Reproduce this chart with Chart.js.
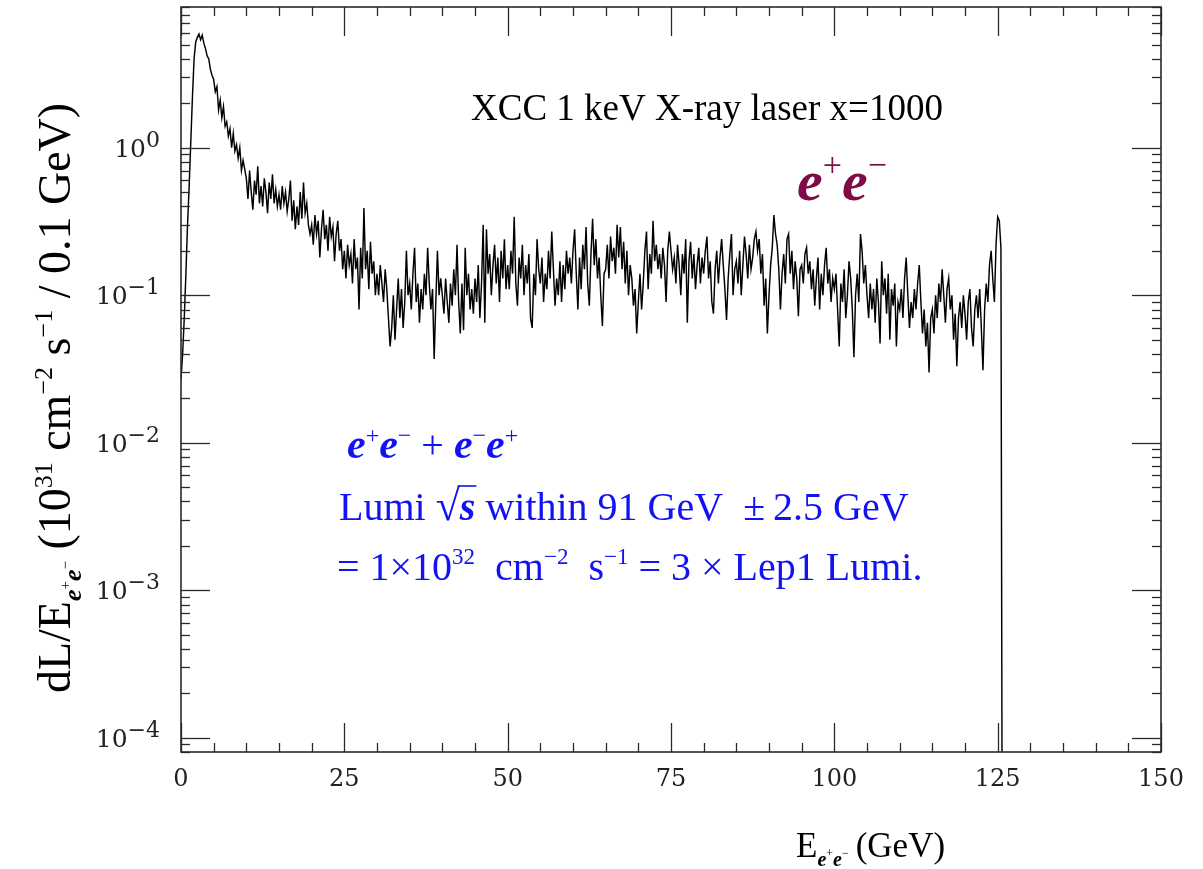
<!DOCTYPE html>
<html>
<head>
<meta charset="utf-8">
<title>XCC 1 keV X-ray laser luminosity spectrum</title>
<script src="https://cdn.jsdelivr.net/npm/chart.js@4.4.1/dist/chart.umd.min.js"></script>
<style>
  html, body { margin: 0; padding: 0; background: #fff; }
  #wrap { width: 1203px; height: 869px; }
</style>
</head>
<body>
<div id="wrap"><canvas id="lumiChart" width="1203" height="869"></canvas></div>
<script>
// Histogram binning (GeV) - values below are read bin by bin off the picture
const BIN_START = 0;
const BIN_WIDTH = 0.25;

// dL/dE, 10^31 cm^-2 s^-1 per 0.1 GeV; one row = 5 GeV
const lumi = [
  0.027, 0.04, 0.07, 0.14, 0.3, 0.55, 1.1, 2.2, 4.0, 5.2, 5.6, 5.9, 5.4, 5.8, 5.1, 4.7, 4.2, 4.0, 3.4, 3.1,
  2.9, 2.4, 2.6, 1.8, 2.1, 1.6, 1.9, 1.4, 1.5, 1.2, 1.35, 1.0, 1.25, 0.95, 1.05, 0.85, 1.0, 0.7, 0.82, 0.72,
  0.62, 0.45, 0.7, 0.5, 0.38, 0.6, 0.48, 0.75, 0.42, 0.55, 0.4, 0.62, 0.5, 0.36, 0.58, 0.45, 0.66, 0.42, 0.52, 0.4,
  0.48, 0.38, 0.55, 0.42, 0.5, 0.37, 0.45, 0.6, 0.32, 0.44, 0.28, 0.4, 0.3, 0.5, 0.33, 0.58, 0.36, 0.42, 0.3, 0.26,
  0.3, 0.22, 0.35, 0.26, 0.32, 0.18, 0.28, 0.38, 0.24, 0.3, 0.2, 0.34, 0.25, 0.29, 0.17, 0.26, 0.32, 0.2, 0.24, 0.15,
  0.2, 0.13, 0.22, 0.16, 0.19, 0.12, 0.24, 0.15, 0.18, 0.08, 0.21, 0.13, 0.39, 0.15, 0.2, 0.11, 0.23, 0.14, 0.17, 0.1,
  0.14, 0.1, 0.16, 0.12, 0.09, 0.15, 0.11, 0.07, 0.045, 0.06, 0.1, 0.05, 0.08, 0.13, 0.07, 0.11, 0.06, 0.09, 0.2, 0.1,
  0.12, 0.08, 0.14, 0.21, 0.09, 0.12, 0.065, 0.11, 0.08, 0.14, 0.1, 0.21, 0.12, 0.08, 0.11, 0.037, 0.09, 0.2, 0.1, 0.13,
  0.1, 0.075, 0.13, 0.09, 0.065, 0.12, 0.085, 0.15, 0.1, 0.22, 0.09, 0.055, 0.12, 0.058, 0.21, 0.1, 0.14, 0.08, 0.11, 0.075,
  0.13, 0.09, 0.16, 0.07, 0.12, 0.3, 0.065, 0.28, 0.14, 0.19, 0.1, 0.16, 0.22, 0.12, 0.18, 0.09, 0.2, 0.13, 0.24, 0.11,
  0.16, 0.11, 0.2, 0.14, 0.34, 0.12, 0.085, 0.18, 0.13, 0.22, 0.1, 0.16, 0.12, 0.19, 0.07, 0.06, 0.14, 0.1, 0.24, 0.15,
  0.12, 0.18, 0.09, 0.14, 0.11, 0.2, 0.13, 0.27, 0.15, 0.085, 0.13, 0.1, 0.17, 0.09, 0.16, 0.11, 0.2, 0.14, 0.18, 0.12,
  0.2, 0.28, 0.14, 0.08, 0.18, 0.11, 0.22, 0.15, 0.29, 0.12, 0.085, 0.19, 0.33, 0.16, 0.24, 0.13, 0.18, 0.1, 0.062, 0.14,
  0.15, 0.22, 0.13, 0.25, 0.17, 0.21, 0.14, 0.3, 0.18, 0.29, 0.15, 0.23, 0.12, 0.2, 0.1, 0.16, 0.13, 0.085, 0.11, 0.055,
  0.09, 0.14, 0.08, 0.12, 0.2, 0.27, 0.11, 0.19, 0.14, 0.32, 0.17, 0.22, 0.15, 0.19, 0.13, 0.21, 0.16, 0.09, 0.2, 0.27,
  0.2, 0.15, 0.18, 0.12, 0.22, 0.16, 0.1, 0.19, 0.14, 0.24, 0.065, 0.17, 0.23, 0.13, 0.19, 0.11, 0.16, 0.21, 0.12, 0.18,
  0.14, 0.2, 0.25, 0.13, 0.17, 0.09, 0.075, 0.15, 0.2, 0.12, 0.18, 0.24, 0.16, 0.11, 0.068, 0.13, 0.19, 0.26, 0.1, 0.15,
  0.17, 0.12, 0.2, 0.1, 0.16, 0.25, 0.19, 0.13, 0.22, 0.15, 0.18, 0.24, 0.27, 0.2, 0.24, 0.14, 0.19, 0.085, 0.13, 0.055,
  0.1, 0.16, 0.21, 0.35, 0.26, 0.22, 0.15, 0.08, 0.14, 0.19, 0.12, 0.24, 0.26, 0.14, 0.2, 0.11, 0.17, 0.13, 0.072, 0.15,
  0.16, 0.12, 0.19, 0.21, 0.14, 0.17, 0.11, 0.15, 0.085, 0.13, 0.18, 0.08, 0.14, 0.1, 0.16, 0.21, 0.12, 0.15, 0.09, 0.13,
  0.11, 0.14, 0.08, 0.045, 0.12, 0.09, 0.15, 0.07, 0.1, 0.17, 0.13, 0.08, 0.038, 0.1, 0.14, 0.09, 0.26, 0.2, 0.12, 0.16,
  0.1, 0.07, 0.12, 0.08, 0.11, 0.065, 0.13, 0.09, 0.047, 0.17, 0.1, 0.13, 0.075, 0.14, 0.05, 0.11, 0.085, 0.12, 0.045, 0.09,
  0.08, 0.11, 0.07, 0.13, 0.18, 0.1, 0.06, 0.09, 0.07, 0.11, 0.08, 0.12, 0.16, 0.09, 0.055, 0.08, 0.045, 0.065, 0.03, 0.07,
  0.08, 0.055, 0.1, 0.07, 0.12, 0.09, 0.15, 0.1, 0.065, 0.11, 0.13, 0.08, 0.1, 0.05, 0.075, 0.033, 0.07, 0.09, 0.06, 0.1,
  0.075, 0.05, 0.09, 0.11, 0.06, 0.045, 0.08, 0.1, 0.07, 0.11, 0.06, 0.031, 0.08, 0.12, 0.09, 0.16, 0.2, 0.13, 0.09, 0.22,
  0.34, 0.32, 0.21, 1e-6
];

// Axis ranges and tick labels
const X_MIN = 0, X_MAX = 150;
const Y_MIN = 8e-5, Y_MAX = 9;
const xTickLabels = [0, 25, 50, 75, 100, 125, 150];
const X_MINOR_STEP = 5;
const yDecadeExponents = [0, -1, -2, -3, -4];

const SERIF = '"Liberation Serif", "Times New Roman", serif';
const TICKFONT = '"DejaVu Serif", serif';
const BLUE = '#1212f2';
const MAROON = '#7e0b45';

// one point per bin (lower edge), the last one closes the drop at the end
const points = lumi.map((v, i) => ({ x: BIN_START + i * BIN_WIDTH, y: v }));

// draw text made of pieces [text, font, dy, overline]
function drawRich(ctx, x, y, parts, align) {
    let w = 0;
    parts.forEach(p => { ctx.font = p[1]; w += ctx.measureText(p[0]).width; });
    let cx = align === 'right' ? x - w : (align === 'center' ? x - w / 2 : x);
    parts.forEach(p => {
        ctx.font = p[1];
        const pw = ctx.measureText(p[0]).width;
        ctx.fillText(p[0], cx, y + (p[2] || 0));
        if (p[3]) {
            ctx.beginPath();
            ctx.lineWidth = 1.6;
            ctx.moveTo(cx - 2, y + p[3]);
            ctx.lineTo(cx + pw + 1, y + p[3]);
            ctx.stroke();
        }
        cx += pw;
    });
    return w;
}

function seg(ctx, x1, y1, x2, y2) {
    ctx.beginPath();
    ctx.moveTo(x1, y1);
    ctx.lineTo(x2, y2);
    ctx.stroke();
}

const frameAndText = {
    id: 'frameAndText',
    afterDraw(chart) {
        const ctx = chart.ctx;
        const a = chart.chartArea;
        const xs = chart.scales.x;
        const ys = chart.scales.y;
        ctx.save();

        // inward ticks on all four sides
        ctx.strokeStyle = '#2a2a2a';
        ctx.lineWidth = 1.3;
        for (let v = X_MIN; v <= X_MAX; v += X_MINOR_STEP) {
            const px = Math.round(xs.getPixelForValue(v)) + 0.5;
            const len = v % 25 === 0 ? 29 : 9;
            seg(ctx, px, a.bottom, px, a.bottom - len);
            seg(ctx, px, a.top, px, a.top + len);
        }
        for (let d = -5; d <= 1; d++) {
            for (let m = 1; m <= 9; m++) {
                const v = m * Math.pow(10, d);
                if (v < Y_MIN || v > Y_MAX) continue;
                const py = Math.round(ys.getPixelForValue(v)) + 0.5;
                const len = m === 1 ? 29 : 9;
                seg(ctx, a.left, py, a.left + len, py);
                seg(ctx, a.right, py, a.right - len, py);
            }
        }
        ctx.lineWidth = 1.6;
        ctx.strokeRect(a.left, a.top, a.right - a.left, a.bottom - a.top);

        // tick labels
        ctx.fillStyle = '#222';
        ctx.textBaseline = 'alphabetic';
        ctx.textAlign = 'left';
        xTickLabels.forEach(v => {
            drawRich(ctx, xs.getPixelForValue(v), 786, [[String(v), '24px ' + TICKFONT, 0]], 'center');
        });
        yDecadeExponents.forEach(e => {
            const py = ys.getPixelForValue(Math.pow(10, e));
            drawRich(ctx, 160, py + 9, [
                ['10', '25px ' + TICKFONT, 0],
                [e === 0 ? '0' : '\u2212' + (-e), '22px ' + TICKFONT, -10]
            ], 'right');
        });

        // axis titles
        ctx.fillStyle = '#000';
        drawRich(ctx, 796, 857, [
            ['E', '35px ' + SERIF, 0],
            ['e', 'bold italic 20px ' + SERIF, 9],
            ['+', '12px ' + SERIF, 0],
            ['e', 'bold italic 20px ' + SERIF, 9],
            ['\u2212', '12px ' + SERIF, 0],
            ['\u2009(GeV)', '35px ' + SERIF, 0]
        ], 'left');

        ctx.save();
        ctx.translate(70, 398);
        ctx.rotate(-Math.PI / 2);
        drawRich(ctx, 0, 0, [
            ['dL/E', '46px ' + SERIF, 0],
            ['e', 'bold italic 26px ' + SERIF, 11],
            ['+', '15px ' + SERIF, 0],
            ['e', 'bold italic 26px ' + SERIF, 11],
            ['\u2212', '15px ' + SERIF, 0],
            [' (10', '46px ' + SERIF, 0],
            ['31', '26px ' + SERIF, -18],
            [' cm', '46px ' + SERIF, 0],
            ['\u22122', '26px ' + SERIF, -18],
            [' s', '46px ' + SERIF, 0],
            ['\u22121', '26px ' + SERIF, -18],
            [' / 0.1 GeV)', '46px ' + SERIF, 0]
        ], 'center');
        ctx.restore();

        // plot title and labels
        drawRich(ctx, 707, 120, [['XCC 1 keV X-ray laser x=1000', '37px ' + SERIF, 0]], 'center');

        ctx.fillStyle = MAROON;
        drawRich(ctx, 797, 200, [
            ['e', 'bold italic 58px ' + SERIF, 0],
            ['+', '34px ' + SERIF, -24],
            ['e', 'bold italic 58px ' + SERIF, 0],
            ['\u2212', '34px ' + SERIF, -24]
        ], 'left');

        ctx.fillStyle = BLUE;
        ctx.strokeStyle = BLUE;
        drawRich(ctx, 347, 458, [
            ['e', 'bold italic 42px ' + SERIF, 0],
            ['+', '24px ' + SERIF, -15],
            ['e', 'bold italic 42px ' + SERIF, 0],
            ['\u2212', '24px ' + SERIF, -15],
            [' + ', '40px ' + SERIF, 0],
            ['e', 'bold italic 42px ' + SERIF, 0],
            ['\u2212', '24px ' + SERIF, -15],
            ['e', 'bold italic 42px ' + SERIF, 0],
            ['+', '24px ' + SERIF, -15]
        ], 'left');
        drawRich(ctx, 339, 520, [
            ['Lumi ', '40px ' + SERIF, 0],
            ['\u221A', '44px ' + SERIF, 0],
            ['s', 'bold italic 40px ' + SERIF, 0, -34],
            [' within 91 GeV  \u00B1\u20092.5 GeV', '40px ' + SERIF, 0]
        ], 'left');
        drawRich(ctx, 337, 580, [
            ['= 1\u00D710', '40px ' + SERIF, 0],
            ['32', '23px ' + SERIF, -16],
            ['  cm', '40px ' + SERIF, 0],
            ['\u22122', '23px ' + SERIF, -16],
            ['  s', '40px ' + SERIF, 0],
            ['\u22121', '23px ' + SERIF, -16],
            [' = 3 \u00D7 Lep1 Lumi.', '40px ' + SERIF, 0]
        ], 'left');

        ctx.restore();
    }
};

const lumiChart = new Chart(document.getElementById('lumiChart'), {
    type: 'line',
    data: {
        datasets: [{
            data: points,
            borderColor: '#000',
            borderWidth: 1.45,
            pointRadius: 0,
            tension: 0,
            fill: false
        }]
    },
    options: {
        responsive: false,
        animation: false,
        devicePixelRatio: 1,
        layout: { padding: { left: 181, right: 42, top: 7, bottom: 117 } },
        plugins: {
            legend: { display: false },
            tooltip: { enabled: false },
            title: { display: false }
        },
        scales: {
            x: { type: 'linear', min: X_MIN, max: X_MAX, display: false },
            y: { type: 'logarithmic', min: Y_MIN, max: Y_MAX, display: false }
        }
    },
    plugins: [frameAndText]
});
</script>
</body>
</html>
